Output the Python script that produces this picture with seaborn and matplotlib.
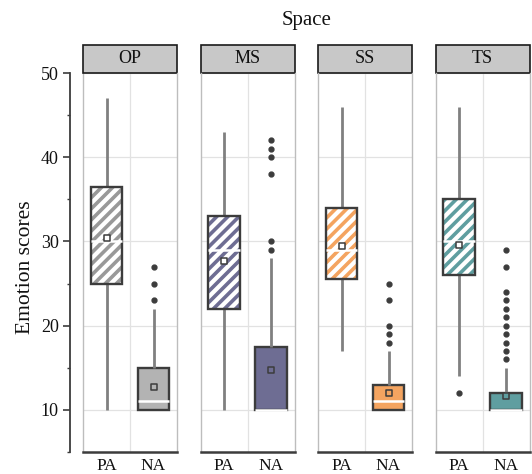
import numpy as np
import pandas as pd
import matplotlib
matplotlib.use("Agg")
import matplotlib.pyplot as plt
import seaborn as sns
from matplotlib.patches import PathPatch, Rectangle
from matplotlib.ticker import MultipleLocator

# %% data (scores per space / emotion, chosen to reproduce the boxes in the picture)
spaces = ["OP", "MS", "SS", "TS"]
emotions = ["PA", "NA"]

op_pa = [10, 25, 30, 36.5, 47]
op_na = [10, 10, 10, 10, 10, 10, 11, 11, 11, 12, 13, 14, 15, 22, 23, 25, 27]
ms_pa = [10, 22, 29, 33, 43]
ms_na = [10] * 15 + [11, 12, 13, 14, 15, 16, 17.5, 28, 29, 30, 38, 40, 41, 42]
ss_pa = [17, 25.5, 29, 34, 46]
ss_na = [10] * 10 + [11, 11, 11, 11, 12, 12, 12, 13, 13, 17, 18, 19, 20, 23, 25]
ts_pa = [12, 14, 26, 28, 30, 33, 35, 40, 46]
ts_na = ([10] * 28 + [11, 11, 11, 11, 11, 12, 12, 12, 12]
         + [15, 16, 17, 18, 19, 20, 21, 22, 23, 24, 27, 29])

# group means (square markers)
op_means = [30.4, 12.7]
ms_means = [27.7, 14.7]
ss_means = [29.5, 12.0]
ts_means = [29.6, 11.7]

space_colors = {"OP": "#b3b3b3", "MS": "#6e6d93", "SS": "#f4a460", "TS": "#5f9ea0"}
hatch_colors = {"OP": "#999999", "MS": "#6e6d93", "SS": "#f4a460", "TS": "#5f9ea0"}

scores = {"OP": (op_pa, op_na), "MS": (ms_pa, ms_na),
          "SS": (ss_pa, ss_na), "TS": (ts_pa, ts_na)}
means = {"OP": op_means, "MS": ms_means, "SS": ss_means, "TS": ts_means}

rows = []
for space in spaces:
    for emo, vals in zip(emotions, scores[space]):
        for v in vals:
            rows.append({"Space": space, "Emotion": emo, "Score": v})
df = pd.DataFrame(rows)

mean_df = pd.DataFrame([{"Space": s, "Emotion": e, "Mean": m}
                        for s in spaces for e, m in zip(emotions, means[s])])

# %% plot
sns.set_style("white")
plt.rcParams["font.family"] = ["Liberation Serif", "DejaVu Serif"]
plt.rcParams["hatch.linewidth"] = 2.6

W, H = 532, 474
dark = "#3c3c3c"
edge_gray = "#bdbdbd"
grid_gray = "#e2e2e2"

fig = plt.figure(figsize=(W / 100, H / 100), dpi=100)
lefts = [83, 200.5, 318, 435.5]

for i, space in enumerate(spaces):
    ax = fig.add_axes([lefts[i] / W, 22 / H, 94 / W, 379 / H])
    col = space_colors[space]
    sub = df[df["Space"] == space]

    sns.boxplot(data=sub, x="Emotion", y="Score", order=emotions,
                color=col, saturation=1, width=0.66,
                linecolor=dark, linewidth=1.7, showcaps=False,
                whiskerprops=dict(color="#808080", linewidth=2.0),
                medianprops=dict(color="white", linewidth=1.8, zorder=6),
                flierprops=dict(marker="o", markersize=3.5,
                                markerfacecolor=dark, markeredgecolor=dark),
                ax=ax)

    # hatched PA box: white background, coloured stripes, dark outline on top
    for p in list(ax.patches):
        ext = p.get_path().get_extents()
        if (ext.x0 + ext.x1) / 2 < 0.5:
            p.set_facecolor("white")
            p.set_edgecolor(hatch_colors[space])
            p.set_hatch("///")
            p.set_linewidth(0)
            ax.add_patch(PathPatch(p.get_path(), transform=p.get_transform(),
                                   fill=False, edgecolor=dark, linewidth=1.7,
                                   zorder=p.get_zorder() + 0.1))

    sub_mean = mean_df[mean_df["Space"] == space]
    sns.stripplot(data=sub_mean, x="Emotion", y="Mean", order=emotions,
                  hue="Emotion", palette={"PA": "white", "NA": col},
                  jitter=False, marker="s", size=4.6, linewidth=1.1,
                  edgecolor=dark, legend=False, zorder=7, ax=ax)

    ax.set_xlim(-0.5, 1.5)
    ax.set_ylim(5, 50)
    ax.set_xlabel("")
    ax.set_ylabel("")
    ax.yaxis.set_major_locator(MultipleLocator(10))
    ax.yaxis.set_minor_locator(MultipleLocator(5))
    ax.set_xticks([0.5], minor=True)
    ax.yaxis.grid(True, which="major", color=grid_gray, linewidth=0.9)
    ax.xaxis.grid(True, which="minor", color=grid_gray, linewidth=0.9)
    ax.set_axisbelow(True)
    ax.tick_params(axis="x", which="both", length=0, labelsize=12.5, pad=4,
                   labelcolor="#111111")

    ax.spines["top"].set_visible(False)
    ax.spines["right"].set_color(edge_gray)
    ax.spines["right"].set_linewidth(1.0)
    ax.spines["bottom"].set_color(dark)
    ax.spines["bottom"].set_linewidth(1.8)

    if i == 0:
        ax.spines["left"].set_position(("outward", 9.4))
        ax.spines["left"].set_color(dark)
        ax.spines["left"].set_linewidth(1.3)
        ax.tick_params(axis="y", which="major", direction="out", length=5,
                       width=1.2, color=dark, labelsize=13, pad=3,
                       left=True, labelcolor="#111111")
        ax.tick_params(axis="y", which="minor", direction="out", length=2.5,
                       width=1.0, color=dark, left=True)
        ax.axvline(-0.5, color=edge_gray, linewidth=1.0, clip_on=False, zorder=1)
    else:
        ax.spines["left"].set_color(edge_gray)
        ax.spines["left"].set_linewidth(1.0)
        ax.tick_params(axis="y", which="both", left=False, labelleft=False)

    # facet strip
    ax.add_patch(Rectangle((0, 1), 1, 28 / 379, transform=ax.transAxes,
                           clip_on=False, facecolor="#c8c8c8",
                           edgecolor="#1a1a1a", linewidth=1.2))
    ax.text(0.5, 1 + 14 / 379, space, transform=ax.transAxes,
            ha="center", va="center", fontsize=13, color="#111111")

fig.text(306.5 / W, 1 - 20 / H, "Space", ha="center", va="center",
         fontsize=15, color="#111111")
fig.text(26 / W, 1 - 267 / H, "Emotion scores", rotation=90,
         ha="center", va="center", fontsize=15.5, color="#111111")

plt.savefig("out.png", dpi=100)
